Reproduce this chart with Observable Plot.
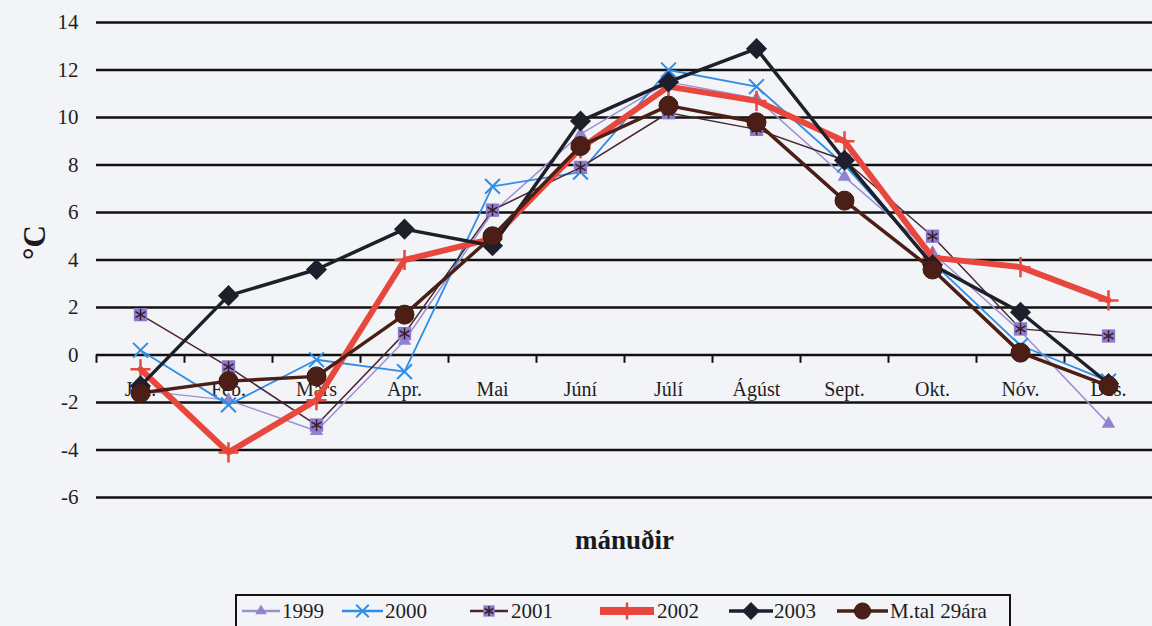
<!DOCTYPE html>
<html>
<head>
<meta charset="utf-8">
<script src="https://cdn.jsdelivr.net/npm/d3@7"></script>
<script src="https://cdn.jsdelivr.net/npm/@observablehq/plot@0.6"></script>
<style>
  body { margin: 0; background: #f3f4f7; }
  #wrap { position: relative; width: 1152px; height: 626px; overflow: hidden; font-family: "Liberation Serif", "Times New Roman", serif; }
  #legend { position: absolute; left: 235px; top: 594px; width: 776px; height: 50px; border: 2px solid #111; box-sizing: border-box; }
  .lab { position: absolute; top: 2px; font-family: "Liberation Serif", "Times New Roman", serif; font-size: 21px; color: #1e1e1e; line-height: 26px; white-space: nowrap; }
</style>
</head>
<body>
<div id="wrap"><div id="legend"></div></div>
<script>
// ---- data ----
const months = ["Jan.", "Feb.", "Mars", "Apr.", "Mai", "Júní", "Júlí", "Ágúst", "Sept.", "Okt.", "Nóv.", "Des."];
const yTicks = [-6, -4, -2, 0, 2, 4, 6, 8, 10, 12, 14];
const seriesNames = ["1999", "2000", "2001", "2002", "2003", "M.tal 29ára"];
const t1999 = [-1.5, -1.9, -3.2, 0.6, 6.0, 9.3, 11.5, 10.8, 7.5, 4.3, 1.0, -2.9];
const t2000 = [0.2, -2.1, -0.2, -0.7, 7.1, 7.7, 12.0, 11.3, 8.0, 3.9, 0.4, -1.1];
const t2001 = [1.7, -0.5, -2.95, 0.9, 6.1, 7.9, 10.2, 9.5, 8.2, 5.0, 1.1, 0.8];
const t2002 = [-0.6, -4.1, -1.9, 4.0, 4.9, 8.7, 11.3, 10.7, 9.0, 4.1, 3.7, 2.3];
const t2003 = [-1.3, 2.5, 3.6, 5.3, 4.6, 9.85, 11.5, 12.9, 8.2, 3.8, 1.8, -1.2];
const tMean = [-1.6, -1.1, -0.9, 1.7, 5.0, 8.8, 10.5, 9.8, 6.5, 3.6, 0.1, -1.3];
const xLabel = "mánuðir";
const yLabel = "°C";

// ---- styles ----
const FONT = "Liberation Serif";
const styles = [
  {line: "#9a90d4", lw: 1.5, marks: [{symbol: "triangle", r: 5, fill: "#9084cf", stroke: "none"}]},
  {line: "#2f8ee6", lw: 1.8, marks: [{symbol: "times", r: 6.8, fill: "none", stroke: "#2f8ee6", sw: 2}]},
  {line: "#4a2431", lw: 1.5, marks: [{symbol: "square", r: 7.5, fill: "#8b7cc8", stroke: "none"}, {symbol: "asterisk", r: 5.5, fill: "none", stroke: "#3a1c2c", sw: 1.5}]},
  {line: "#e8473e", lw: 6, marks: [{symbol: "plus", r: 6.5, fill: "none", stroke: "#e8473e", sw: 2.5}]},
  {line: "#1d202b", lw: 3.5, marks: [{symbol: "diamond2", r: 9.5, fill: "#1d202b", stroke: "none"}]},
  {line: "#4b1f15", lw: 3.5, marks: [{symbol: "circle", r: 9.5, fill: "#4b1f15", stroke: "#3a1710", sw: 1}]}
];
const values = [t1999, t2000, t2001, t2002, t2003, tMean];
const series = seriesNames.map((name, k) => ({name, rows: months.map((m, i) => ({month: m, v: values[k][i]})), st: styles[k]}));

const marks = [
  Plot.ruleY(yTicks, {y: d => d, stroke: "#111", strokeWidth: 2.5}),
  Plot.ruleX(months, {x: d => d, y1: () => 0, y2: () => -0.35, dx: -44, stroke: "#111", strokeWidth: 2}),
  Plot.text(yTicks, {y: d => d, text: d => String(d), frameAnchor: "left", dx: -18, textAnchor: "end", fontSize: 21, fontFamily: FONT, fill: "#1e1e1e"}),
  Plot.text(months, {x: d => d, y: () => 0, text: d => d, dy: 35, fontSize: 20, fontFamily: FONT, fill: "#1e1e1e"}),
  Plot.text([yLabel], {text: d => d, frameAnchor: "left", dx: -61, rotate: -90, fontSize: 31, fontWeight: "bold", fontFamily: FONT, fill: "#1a1a1a"}),
  Plot.text([xLabel], {text: d => d, frameAnchor: "bottom", dy: 51, fontSize: 27, fontWeight: "bold", fontFamily: FONT, fill: "#1a1a1a"})
];
for (const s of series) {
  marks.push(Plot.line(s.rows, {x: "month", y: "v", stroke: s.st.line, strokeWidth: s.st.lw, strokeLinejoin: "round"}));
  for (const mk of s.st.marks) {
    marks.push(Plot.dot(s.rows, {x: "month", y: "v", symbol: mk.symbol, r: mk.r, fill: mk.fill, stroke: mk.stroke, strokeWidth: mk.sw || 1}));
  }
}

const chart = Plot.plot({
  width: 1152, height: 590,
  marginLeft: 96, marginRight: 0, marginTop: 22, marginBottom: 93,
  style: {background: "transparent", fontFamily: "'Liberation Serif', serif", overflow: "visible"},
  x: {type: "point", domain: months, padding: 0.5, axis: null},
  y: {domain: [-6, 14], axis: null},
  marks
});
document.getElementById("wrap").prepend(chart);

// ---- legend ----
const legendPos = [[5, 38, 45], [105, 41, 148], [233, 38, 274], [363, 54, 420], [492, 44, 537], [600, 51, 653]];
const legend = document.getElementById("legend");
const symMap = {triangle: d3.symbolTriangle, times: d3.symbolTimes, square: d3.symbolSquare, asterisk: d3.symbolAsterisk, plus: d3.symbolPlus, diamond2: d3.symbolDiamond2, circle: d3.symbolCircle};
series.forEach((s, k) => {
  const [sx, sw, tx] = legendPos[k];
  const svg = d3.create("svg").attr("width", sw).attr("height", 28)
    .style("position", "absolute").style("left", sx + "px").style("top", "1px");
  svg.append("line").attr("x1", 0).attr("x2", sw).attr("y1", 14).attr("y2", 14)
    .attr("stroke", s.st.line).attr("stroke-width", k === 3 ? 8 : Math.max(s.st.lw, 2.5));
  for (const mk of s.st.marks) {
    const rr = mk.r * 0.85;
    svg.append("path").attr("transform", `translate(${sw / 2},14)`)
      .attr("d", d3.symbol(symMap[mk.symbol], Math.PI * rr * rr)())
      .attr("fill", mk.fill).attr("stroke", mk.stroke).attr("stroke-width", mk.sw || 1);
  }
  legend.appendChild(svg.node());
  const lab = document.createElement("div");
  lab.className = "lab";
  lab.style.left = tx + "px";
  lab.textContent = s.name;
  legend.appendChild(lab);
});
</script>
</body>
</html>
